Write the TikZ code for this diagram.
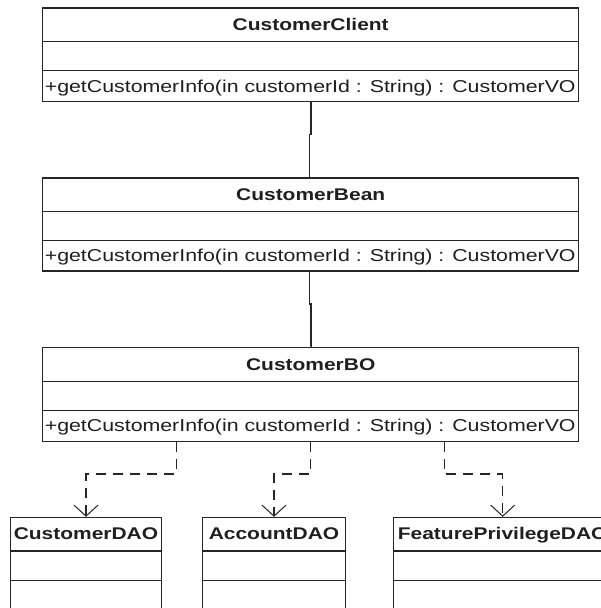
\documentclass[tikz,border=0pt]{standalone}
\usepackage{fontspec}
\setmainfont{Liberation Sans}[FakeStretch=1.24]
\usetikzlibrary{arrows.meta}

\tikzset{
  classbox/.style={draw=black!85, line width=1.2pt, rectangle, inner sep=0pt, anchor=north},
  divider/.style={draw=black!85, line width=1.1pt},
  classtitle/.style={inner sep=0pt, anchor=base, font=\fontsize{16.9}{20}\selectfont\bfseries, text=black!88},
  methodtext/.style={inner sep=0pt, anchor=base west, font=\fontsize{17.2}{20}\selectfont, text=black!88},
  assoc/.style={draw=black!85, line width=1.1pt},
  dep/.style={draw=black!85, line width=1.1pt, dash pattern=on 10pt off 7pt,
    -{Straight Barb[length=11pt, width=24pt, line width=1pt, sep=0pt]}},
}

\begin{document}
\begin{tikzpicture}[x=1pt, y=-1pt]
  \useasboundingbox (0,0) rectangle (601,608);
  \fill[white] (0,0) rectangle (601,608);
  \clip (0,0) rectangle (601,608);

  % ---- CustomerClient ----
  \node[classbox, minimum width=536pt, minimum height=93.5pt] (client) at (310.7,7.3) {};
  \draw[divider] ([yshift=-34.5pt]client.north west) -- ([yshift=-34.5pt]client.north east);
  \draw[divider] ([yshift=-63.5pt]client.north west) -- ([yshift=-63.5pt]client.north east);
  \node[classtitle] (clientT) at ([yshift=-23.4pt]client.north) {CustomerClient};
  \node[methodtext] (clientM) at ([xshift=2.5pt, yshift=-84.7pt]client.north west)
    {+getCustomerInfo(in customerId : String) : CustomerVO};

  % ---- CustomerBean ----
  \node[classbox, minimum width=536pt, minimum height=93pt] (bean) at (310.7,177.3) {};
  \draw[divider] ([yshift=-34.5pt]bean.north west) -- ([yshift=-34.5pt]bean.north east);
  \draw[divider] ([yshift=-63.5pt]bean.north west) -- ([yshift=-63.5pt]bean.north east);
  \node[classtitle] (beanT) at ([yshift=-23.4pt]bean.north) {CustomerBean};
  \node[methodtext] (beanM) at ([xshift=2.5pt, yshift=-84.5pt]bean.north west)
    {+getCustomerInfo(in customerId : String) : CustomerVO};

  % ---- CustomerBO ----
  \node[classbox, minimum width=536pt, minimum height=93.8pt] (bo) at (310.7,346.8) {};
  \draw[divider] ([yshift=-34.3pt]bo.north west) -- ([yshift=-34.3pt]bo.north east);
  \draw[divider] ([yshift=-64pt]bo.north west) -- ([yshift=-64pt]bo.north east);
  \node[classtitle] (boT) at ([yshift=-23.3pt]bo.north) {CustomerBO};
  \node[methodtext] (boM) at ([xshift=2.5pt, yshift=-85pt]bo.north west)
    {+getCustomerInfo(in customerId : String) : CustomerVO};

  % ---- DAO classes (running past the lower edge) ----
  \node[classbox, minimum width=151.4pt, minimum height=120pt] (cdao) at (86,516.8) {};
  \draw[divider] ([yshift=-34.2pt]cdao.north west) -- ([yshift=-34.2pt]cdao.north east);
  \draw[divider] ([yshift=-64pt]cdao.north west) -- ([yshift=-64pt]cdao.north east);
  \node[classtitle] (cdaoT) at ([yshift=-23pt]cdao.north) {CustomerDAO};

  \node[classbox, minimum width=143.4pt, minimum height=120pt] (adao) at (274,516.8) {};
  \draw[divider] ([yshift=-34.2pt]adao.north west) -- ([yshift=-34.2pt]adao.north east);
  \draw[divider] ([yshift=-64pt]adao.north west) -- ([yshift=-64pt]adao.north east);
  \node[classtitle] (adaoT) at ([yshift=-23pt]adao.north) {AccountDAO};

  \node[classbox, minimum width=218.8pt, minimum height=120pt] (fdao) at (502.7,516.8) {};
  \draw[divider] ([yshift=-34.2pt]fdao.north west) -- ([yshift=-34.2pt]fdao.north east);
  \draw[divider] ([yshift=-64pt]fdao.north west) -- ([yshift=-64pt]fdao.north east);
  \node[classtitle] (fdaoT) at ([yshift=-23pt]fdao.north) {FeaturePrivilegeDAO};

  % ---- associations ----
  \draw[assoc] ([xshift=0.3pt]client.south) -- ++(0,32.5) -- ++(-1.3,0) |- (bean.north);
  \draw[assoc] ([xshift=-1pt]bean.south) -- ++(0,32.5) -- ++(1.3,0) |- (bo.north);

  % ---- dependencies ----
  \draw[dep] ([xshift=134pt]bo.south west) -- ++(0,32.2) -| (cdao.north);
  \draw[dep] (bo.south) -- ++(0,32.2) -| (adao.north);
  \draw[dep] ([xshift=-134.7pt]bo.south east) -- ++(0,32.2) -| (fdao.north);
\end{tikzpicture}
\end{document}
